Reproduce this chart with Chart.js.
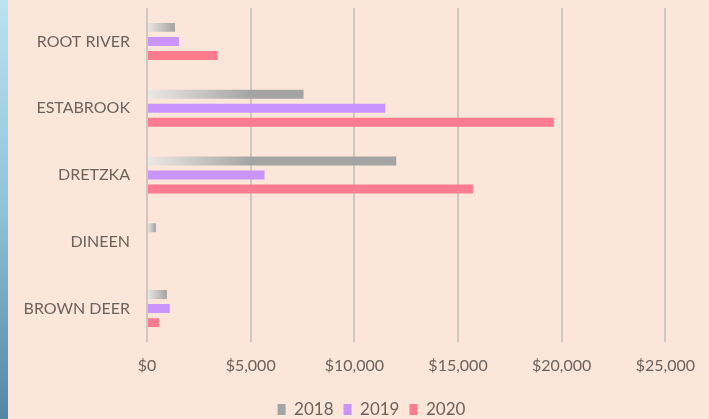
<!DOCTYPE html>
<html>
<head>
<meta charset="utf-8">
<script src="https://cdn.jsdelivr.net/npm/chart.js@4"></script>
<style>
  html, body { margin: 0; padding: 0; background: #fbe6d9; }
  #wrap { position: relative; width: 709px; height: 419px; overflow: hidden; }
  #strip { position: absolute; left: 0; top: 0; width: 8px; height: 419px;
    background: linear-gradient(#b9e3ef, #8fc3d6 50%, #5485a5); }
  #cv { position: absolute; left: 0; top: 0; }
</style>
</head>
<body>
<div id="wrap">
  <div id="strip"></div>
  <canvas id="cv" width="709" height="419"></canvas>
</div>
<script>
'use strict';
let categories = ['ROOT RIVER', 'ESTABROOK', 'DRETZKA', 'DINEEN', 'BROWN DEER'];
let years = ['2018', '2019', '2020'];
let values2018 = [1350, 7550, 12020, 430, 960];
let values2019 = [1540, 11490, 5670, 0, 1100];
let values2020 = [3410, 19620, 15720, 0, 580];
let xTicks = [0, 5000, 10000, 15000, 20000, 25000];

let textColor = '#6d625c';
let grayBar = '#a4a4a4';

// gray bars fade in from the left like the excel gradient fill
function grayGradient(context) {
    let chart = context.chart;
    if (!chart.chartArea || context.raw === undefined) {
        return grayBar;
    }
    let x = chart.scales.x;
    let x0 = x.getPixelForValue(0);
    let x1 = x.getPixelForValue(context.raw);
    let len = Math.max(2, Math.min(x1 - x0, 105));
    let g = chart.ctx.createLinearGradient(x0, 0, x0 + len, 0);
    g.addColorStop(0, '#ece8e4');
    g.addColorStop(1, grayBar);
    return g;
}

// nudge the legend a little right, it sits off-centre in the original
let legendShift = {
    id: 'legendShift',
    afterLayout: function (chart) {
        chart.legend.left += 17;
        chart.legend.right += 17;
    }
};

let ctx = document.getElementById('cv').getContext('2d');
let chart = new Chart(ctx, {
    type: 'bar',
    data: {
        labels: categories,
        datasets: [
            { label: years[0], data: values2018, backgroundColor: grayGradient },
            { label: years[1], data: values2019, backgroundColor: '#c994fe' },
            { label: years[2], data: values2020, backgroundColor: '#ff7b8f' }
        ]
    },
    plugins: [legendShift],
    options: {
        indexAxis: 'y',
        responsive: false,
        animation: false,
        categoryPercentage: 0.63,
        barPercentage: 0.64,
        layout: { padding: { top: 8, left: 0, right: 0, bottom: -9 } },
        scales: {
            x: {
                min: 0,
                max: 25000,
                afterBuildTicks: function (scale) {
                    scale.ticks = xTicks.map(v => ({ value: v }));
                },
                afterFit: function (scale) { scale.height = 49; },
                grid: { color: '#cdc8c2', lineWidth: 2, drawTicks: false },
                border: { display: false },
                ticks: {
                    color: textColor,
                    padding: 14,
                    font: { family: 'Lato', size: 16 },
                    callback: function (v) { return '$' + Number(v).toLocaleString('en-US'); }
                }
            },
            y: {
                afterFit: function (scale) {
                    scale.width = 147;
                    scale.paddingTop = 0;
                    scale.paddingBottom = 0;
                },
                grid: { display: false, drawTicks: false },
                border: { display: false },
                ticks: {
                    color: textColor,
                    padding: 17,
                    font: { family: 'Lato', size: 16 }
                }
            }
        },
        plugins: {
            tooltip: { enabled: false },
            legend: {
                position: 'bottom',
                labels: {
                    color: textColor,
                    font: { family: 'Lato', size: 17 },
                    boxWidth: 8,
                    boxHeight: 11,
                    padding: 10,
                    generateLabels: function (chart) {
                        let fills = [grayBar, '#c994fe', '#ff7b8f'];
                        return years.map((y, i) => ({
                            text: y, fillStyle: fills[i], strokeStyle: fills[i],
                            lineWidth: 0, fontColor: textColor, datasetIndex: i
                        }));
                    }
                }
            }
        }
    }
});
</script>
</body>
</html>
